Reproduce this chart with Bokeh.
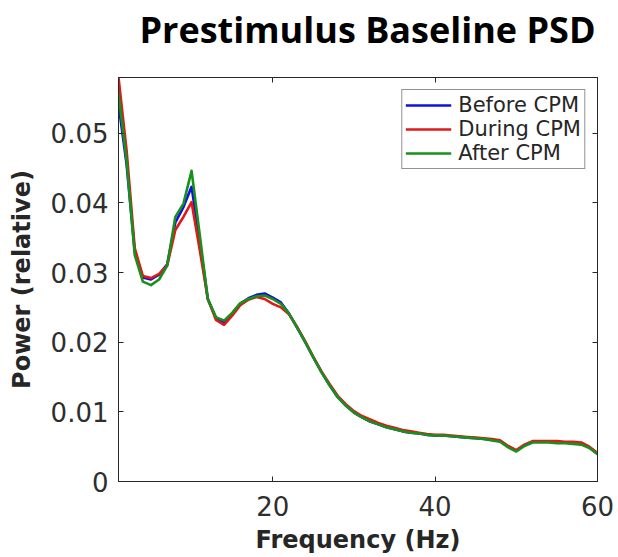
from bokeh.plotting import figure
from bokeh.models import Range1d, LinearAxis, FixedTicker, Legend, LegendItem, Title
from bokeh.embed import file_html
from bokeh.resources import INLINE

title_text = "Prestimulus Baseline PSD"
x_label = "Frequency (Hz)"
y_label = "Power (relative)"
series_names = ["Before CPM", "During CPM", "After CPM"]

freq = list(range(1, 61))

before = [0.0542, 0.0455, 0.0330, 0.0293, 0.0290, 0.0297, 0.0312, 0.0372, 0.0394, 0.0423,
          0.0345, 0.0262, 0.0235, 0.0229, 0.0241, 0.0255, 0.0263, 0.0268, 0.0270, 0.0264,
          0.0257, 0.0241, 0.0221, 0.0200, 0.0178, 0.0157, 0.0138, 0.0121, 0.0109, 0.0099,
          0.0092, 0.0086, 0.0082, 0.0078, 0.0075, 0.0072, 0.0070, 0.0069, 0.0067, 0.0066,
          0.0066, 0.0065, 0.0064, 0.0063, 0.0062, 0.0061, 0.0060, 0.0058, 0.0050, 0.0044,
          0.0052, 0.0057, 0.0057, 0.0057, 0.0056, 0.0056, 0.0055, 0.0054, 0.0049, 0.0040]

during = [0.0580, 0.0475, 0.0335, 0.0295, 0.0292, 0.0298, 0.0310, 0.0361, 0.0380, 0.0401,
          0.0333, 0.0262, 0.0232, 0.0225, 0.0238, 0.0253, 0.0261, 0.0265, 0.0262, 0.0255,
          0.0250, 0.0240, 0.0222, 0.0201, 0.0179, 0.0158, 0.0140, 0.0123, 0.0111, 0.0101,
          0.0094, 0.0089, 0.0084, 0.0080, 0.0077, 0.0074, 0.0072, 0.0070, 0.0068, 0.0067,
          0.0067, 0.0066, 0.0065, 0.0064, 0.0063, 0.0062, 0.0061, 0.0059, 0.0051, 0.0045,
          0.0053, 0.0058, 0.0058, 0.0058, 0.0058, 0.0057, 0.0057, 0.0056, 0.0050, 0.0041]

after = [0.0557, 0.0460, 0.0325, 0.0287, 0.0282, 0.0290, 0.0310, 0.0380, 0.0399, 0.0446,
         0.0355, 0.0262, 0.0236, 0.0231, 0.0242, 0.0256, 0.0262, 0.0266, 0.0267, 0.0262,
         0.0255, 0.0241, 0.0221, 0.0200, 0.0178, 0.0157, 0.0138, 0.0121, 0.0109, 0.0099,
         0.0092, 0.0086, 0.0082, 0.0078, 0.0075, 0.0072, 0.0070, 0.0069, 0.0067, 0.0066,
         0.0066, 0.0065, 0.0064, 0.0063, 0.0062, 0.0061, 0.0059, 0.0057, 0.0049, 0.0043,
         0.0051, 0.0056, 0.0056, 0.0056, 0.0055, 0.0055, 0.0054, 0.0053, 0.0048, 0.0039]

x_ticks = [20, 40, 60]
y_ticks = [0, 0.01, 0.02, 0.03, 0.04, 0.05]
y_tick_labels = ["0", "0.01", "0.02", "0.03", "0.04", "0.05"]

colors = ["#1010e0", "#e01818", "#18901c"]
AX = "#262626"
TICK_TXT = "#2e2e2e"

p = figure(width=618, height=557, output_backend="svg", toolbar_location=None,
           x_range=Range1d(1, 60), y_range=Range1d(0, 0.058),
           title=None,
           min_border_left=118, min_border_right=21, min_border_top=77, min_border_bottom=76)

p.xgrid.visible = False
p.ygrid.visible = False
p.background_fill_color = "white"
p.border_fill_color = "white"
p.outline_line_color = AX
p.outline_line_width = 1

xa = p.xaxis[0]
xa.ticker = FixedTicker(ticks=x_ticks)
xa.axis_label = x_label
ya = p.yaxis[0]
ya.ticker = FixedTicker(ticks=y_ticks)
ya.major_label_overrides = {t: s for t, s in zip(y_ticks, y_tick_labels)}
ya.axis_label = y_label

for ax in (xa, ya):
    ax.axis_line_color = AX
    ax.major_tick_line_color = AX
    ax.major_tick_in = 5
    ax.major_tick_out = 0
    ax.minor_tick_line_color = None
    ax.major_label_text_font = "DejaVu Sans"
    ax.major_label_text_font_size = "26px"
    ax.major_label_text_color = TICK_TXT
    ax.axis_label_text_font = "DejaVu Sans"
    ax.axis_label_text_font_size = "24px"
    ax.axis_label_text_font_style = "bold"
    ax.axis_label_text_color = AX
xa.major_label_standoff = 14
xa.axis_label_standoff = 7
ya.major_label_standoff = 10
ya.axis_label_standoff = 12

top = LinearAxis(ticker=FixedTicker(ticks=x_ticks), major_label_text_color=None,
                 major_label_text_font_size="1px",
                 major_tick_in=5, major_tick_out=0, minor_tick_line_color=None,
                 axis_line_color=AX, major_tick_line_color=AX, major_label_standoff=0)
right = LinearAxis(ticker=FixedTicker(ticks=y_ticks), major_label_text_color=None,
                   major_label_text_font_size="1px",
                   major_tick_in=5, major_tick_out=0, minor_tick_line_color=None,
                   axis_line_color=AX, major_tick_line_color=AX, major_label_standoff=0)
p.add_layout(top, "above")
p.add_layout(right, "right")

# spacer between the top axis and the title, then the title further out
p.add_layout(Title(text=" ", text_font_size="20px", standoff=0), "above")
p.add_layout(Title(text=title_text, align="left", offset=21, standoff=0,
                   text_font="Open Sans", text_font_size="36px",
                   text_font_style="bold", text_color="black"), "above")

renderers = []
for ys, c in zip([before, during, after], colors):
    r = p.line(freq, ys, line_color=c, line_width=2.6, line_join="round")
    renderers.append(r)

legend = Legend(items=[LegendItem(label=n, renderers=[r]) for n, r in zip(series_names, renderers)],
                location="top_right")
legend.label_text_font = "DejaVu Sans"
legend.label_text_font_size = "21px"
legend.label_text_color = AX
legend.glyph_width = 46
legend.glyph_height = 22
legend.label_height = 22
legend.spacing = 0
legend.padding = 3
legend.margin = 12
legend.label_standoff = 7
legend.border_line_color = AX
legend.border_line_width = 1
legend.background_fill_color = "white"
p.add_layout(legend)

open("out.html", "w").write(file_html(p, INLINE))
